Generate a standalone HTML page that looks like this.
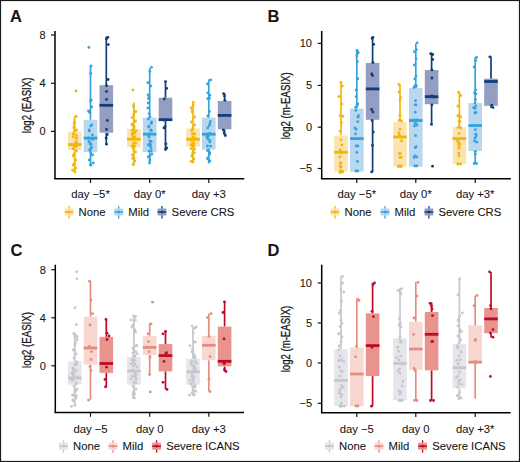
<!DOCTYPE html>
<html><head><meta charset="utf-8"><style>
html,body{margin:0;padding:0;background:#fff;}
svg{display:block;}
text{font-family:"Liberation Sans", sans-serif;fill:#151515;stroke:#151515;stroke-width:0.08px;}
</style></head><body>
<svg width="520" height="462" viewBox="0 0 520 462">
<rect x="0" y="0" width="520" height="462" fill="#fff"/>
<line x1="74.7" y1="116" x2="74.7" y2="131.6" stroke="#F2B70C" stroke-width="1.7"/>
<line x1="74.7" y1="150" x2="74.7" y2="172.8" stroke="#F2B70C" stroke-width="1.7"/>
<rect x="67.9" y="131.6" width="13.6" height="18.4" fill="#FAE5B2"/>
<line x1="67.9" y1="144.6" x2="81.5" y2="144.6" stroke="#F2B70C" stroke-width="2.8"/>
<line x1="90.5" y1="65.7" x2="90.5" y2="119.8" stroke="#35A3DB" stroke-width="1.7"/>
<line x1="90.5" y1="152.2" x2="90.5" y2="165.8" stroke="#35A3DB" stroke-width="1.7"/>
<rect x="83.7" y="119.8" width="13.6" height="32.4" fill="#BAD7F0"/>
<line x1="83.7" y1="138.1" x2="97.3" y2="138.1" stroke="#35A3DB" stroke-width="2.8"/>
<line x1="106.3" y1="36.5" x2="106.3" y2="85.2" stroke="#123D78" stroke-width="1.7"/>
<line x1="106.3" y1="132.7" x2="106.3" y2="144.6" stroke="#123D78" stroke-width="1.7"/>
<rect x="99.5" y="85.2" width="13.6" height="47.5" fill="#949DC2"/>
<line x1="99.5" y1="105.3" x2="113.1" y2="105.3" stroke="#123D78" stroke-width="2.8"/>
<line x1="133.9" y1="102.5" x2="133.9" y2="129" stroke="#F2B70C" stroke-width="1.7"/>
<line x1="133.9" y1="147.2" x2="133.9" y2="165.2" stroke="#F2B70C" stroke-width="1.7"/>
<rect x="127.1" y="129" width="13.6" height="18.2" fill="#FAE5B2"/>
<line x1="127.1" y1="139.2" x2="140.7" y2="139.2" stroke="#F2B70C" stroke-width="2.8"/>
<line x1="149.7" y1="67.9" x2="149.7" y2="117.7" stroke="#35A3DB" stroke-width="1.7"/>
<line x1="149.7" y1="152.2" x2="149.7" y2="163" stroke="#35A3DB" stroke-width="1.7"/>
<rect x="142.9" y="117.7" width="13.6" height="34.5" fill="#BAD7F0"/>
<line x1="142.9" y1="134.2" x2="156.5" y2="134.2" stroke="#35A3DB" stroke-width="2.8"/>
<line x1="165.5" y1="82" x2="165.5" y2="97.7" stroke="#123D78" stroke-width="1.7"/>
<line x1="165.5" y1="121" x2="165.5" y2="149.6" stroke="#123D78" stroke-width="1.7"/>
<rect x="158.7" y="97.7" width="13.6" height="23.3" fill="#949DC2"/>
<line x1="158.7" y1="119.7" x2="172.3" y2="119.7" stroke="#123D78" stroke-width="2.8"/>
<line x1="193.0" y1="102" x2="193.0" y2="128.4" stroke="#F2B70C" stroke-width="1.7"/>
<line x1="193.0" y1="146.8" x2="193.0" y2="162" stroke="#F2B70C" stroke-width="1.7"/>
<rect x="186.2" y="128.4" width="13.6" height="18.4" fill="#FAE5B2"/>
<line x1="186.2" y1="139.2" x2="199.8" y2="139.2" stroke="#F2B70C" stroke-width="2.8"/>
<line x1="208.8" y1="79.4" x2="208.8" y2="117.7" stroke="#35A3DB" stroke-width="1.7"/>
<line x1="208.8" y1="149.6" x2="208.8" y2="162" stroke="#35A3DB" stroke-width="1.7"/>
<rect x="202.0" y="117.7" width="13.6" height="31.9" fill="#BAD7F0"/>
<line x1="202.0" y1="134.2" x2="215.6" y2="134.2" stroke="#35A3DB" stroke-width="2.8"/>
<line x1="224.6" y1="93.4" x2="224.6" y2="101" stroke="#123D78" stroke-width="1.7"/>
<line x1="224.6" y1="129.3" x2="224.6" y2="135.7" stroke="#123D78" stroke-width="1.7"/>
<rect x="217.8" y="101" width="13.6" height="28.3" fill="#949DC2"/>
<line x1="217.8" y1="115.4" x2="231.4" y2="115.4" stroke="#123D78" stroke-width="2.8"/>
<circle cx="76.0" cy="90.9" r="1.4" fill="#F2B70C"/>
<circle cx="76.1" cy="116.4" r="1.4" fill="#F2B70C"/>
<circle cx="74.1" cy="124.0" r="1.4" fill="#F2B70C"/>
<circle cx="76.5" cy="130.0" r="1.4" fill="#F2B70C"/>
<circle cx="73.3" cy="137.0" r="1.4" fill="#F2B70C"/>
<circle cx="75.7" cy="142.0" r="1.4" fill="#F2B70C"/>
<circle cx="74.1" cy="146.0" r="1.4" fill="#F2B70C"/>
<circle cx="76.5" cy="151.0" r="1.4" fill="#F2B70C"/>
<circle cx="73.3" cy="156.0" r="1.4" fill="#F2B70C"/>
<circle cx="75.7" cy="160.0" r="1.4" fill="#F2B70C"/>
<circle cx="74.1" cy="164.0" r="1.4" fill="#F2B70C"/>
<circle cx="75.7" cy="168.0" r="1.4" fill="#F2B70C"/>
<circle cx="74.9" cy="172.0" r="1.4" fill="#F2B70C"/>
<circle cx="76.6" cy="143.5" r="1.4" fill="#F2B70C"/>
<circle cx="76.5" cy="137.9" r="1.4" fill="#F2B70C"/>
<circle cx="74.0" cy="154.2" r="1.4" fill="#F2B70C"/>
<circle cx="73.8" cy="133.2" r="1.4" fill="#F2B70C"/>
<circle cx="72.7" cy="170.2" r="1.4" fill="#F2B70C"/>
<circle cx="76.5" cy="142.4" r="1.4" fill="#F2B70C"/>
<circle cx="76.3" cy="146.6" r="1.4" fill="#F2B70C"/>
<circle cx="74.0" cy="148.9" r="1.4" fill="#F2B70C"/>
<circle cx="74.2" cy="145.0" r="1.4" fill="#F2B70C"/>
<circle cx="73.2" cy="164.9" r="1.4" fill="#F2B70C"/>
<circle cx="76.3" cy="135.6" r="1.4" fill="#F2B70C"/>
<circle cx="73.1" cy="148.5" r="1.4" fill="#F2B70C"/>
<circle cx="73.8" cy="127.5" r="1.4" fill="#F2B70C"/>
<circle cx="74.2" cy="127.1" r="1.4" fill="#F2B70C"/>
<circle cx="76.5" cy="138.6" r="1.4" fill="#F2B70C"/>
<circle cx="74.4" cy="121.8" r="1.4" fill="#F2B70C"/>
<circle cx="74.7" cy="130.8" r="1.4" fill="#F2B70C"/>
<circle cx="73.4" cy="134.3" r="1.4" fill="#F2B70C"/>
<circle cx="88.9" cy="47.4" r="1.4" fill="#35A3DB"/>
<circle cx="91.1" cy="66.0" r="1.4" fill="#35A3DB"/>
<circle cx="90.8" cy="73.5" r="1.4" fill="#35A3DB"/>
<circle cx="91.3" cy="99.8" r="1.4" fill="#35A3DB"/>
<circle cx="91.7" cy="107.0" r="1.4" fill="#35A3DB"/>
<circle cx="88.5" cy="111.0" r="1.4" fill="#35A3DB"/>
<circle cx="91.7" cy="125.0" r="1.4" fill="#35A3DB"/>
<circle cx="89.3" cy="131.0" r="1.4" fill="#35A3DB"/>
<circle cx="92.5" cy="135.0" r="1.4" fill="#35A3DB"/>
<circle cx="88.5" cy="138.0" r="1.4" fill="#35A3DB"/>
<circle cx="93.3" cy="139.0" r="1.4" fill="#35A3DB"/>
<circle cx="90.1" cy="143.0" r="1.4" fill="#35A3DB"/>
<circle cx="91.7" cy="147.0" r="1.4" fill="#35A3DB"/>
<circle cx="90.1" cy="150.0" r="1.4" fill="#35A3DB"/>
<circle cx="92.5" cy="155.0" r="1.4" fill="#35A3DB"/>
<circle cx="89.3" cy="160.0" r="1.4" fill="#35A3DB"/>
<circle cx="90.9" cy="165.0" r="1.4" fill="#35A3DB"/>
<circle cx="93.3" cy="163.0" r="1.4" fill="#35A3DB"/>
<circle cx="90.1" cy="143.9" r="1.4" fill="#35A3DB"/>
<circle cx="90.6" cy="126.0" r="1.4" fill="#35A3DB"/>
<circle cx="90.4" cy="101.3" r="1.4" fill="#35A3DB"/>
<circle cx="90.0" cy="150.5" r="1.4" fill="#35A3DB"/>
<circle cx="90.9" cy="144.2" r="1.4" fill="#35A3DB"/>
<circle cx="90.8" cy="153.0" r="1.4" fill="#35A3DB"/>
<circle cx="92.2" cy="139.2" r="1.4" fill="#35A3DB"/>
<circle cx="90.6" cy="164.9" r="1.4" fill="#35A3DB"/>
<circle cx="90.0" cy="149.6" r="1.4" fill="#35A3DB"/>
<circle cx="91.1" cy="147.9" r="1.4" fill="#35A3DB"/>
<circle cx="89.8" cy="112.7" r="1.4" fill="#35A3DB"/>
<circle cx="88.9" cy="141.5" r="1.4" fill="#35A3DB"/>
<circle cx="89.2" cy="130.0" r="1.4" fill="#35A3DB"/>
<circle cx="89.5" cy="111.5" r="1.4" fill="#35A3DB"/>
<circle cx="107.9" cy="37.3" r="1.4" fill="#123D78"/>
<circle cx="106.5" cy="39.0" r="1.4" fill="#123D78"/>
<circle cx="108.3" cy="44.6" r="1.4" fill="#123D78"/>
<circle cx="108.1" cy="79.5" r="1.4" fill="#123D78"/>
<circle cx="106.5" cy="85.7" r="1.4" fill="#123D78"/>
<circle cx="106.5" cy="91.4" r="1.4" fill="#123D78"/>
<circle cx="106.5" cy="99.5" r="1.4" fill="#123D78"/>
<circle cx="107.3" cy="120.5" r="1.4" fill="#123D78"/>
<circle cx="106.5" cy="129.5" r="1.4" fill="#123D78"/>
<circle cx="107.3" cy="134.5" r="1.4" fill="#123D78"/>
<circle cx="106.1" cy="138.0" r="1.4" fill="#123D78"/>
<circle cx="106.5" cy="144.2" r="1.4" fill="#123D78"/>
<circle cx="132.9" cy="90.0" r="1.4" fill="#F2B70C"/>
<circle cx="135.8" cy="111.6" r="1.4" fill="#F2B70C"/>
<circle cx="133.6" cy="114.4" r="1.4" fill="#F2B70C"/>
<circle cx="132.0" cy="117.6" r="1.4" fill="#F2B70C"/>
<circle cx="134.8" cy="121.4" r="1.4" fill="#F2B70C"/>
<circle cx="132.4" cy="124.0" r="1.4" fill="#F2B70C"/>
<circle cx="134.0" cy="126.6" r="1.4" fill="#F2B70C"/>
<circle cx="132.8" cy="130.0" r="1.4" fill="#F2B70C"/>
<circle cx="134.8" cy="133.0" r="1.4" fill="#F2B70C"/>
<circle cx="135.6" cy="121.0" r="1.4" fill="#F2B70C"/>
<circle cx="132.0" cy="125.0" r="1.4" fill="#F2B70C"/>
<circle cx="134.0" cy="128.0" r="1.4" fill="#F2B70C"/>
<circle cx="136.0" cy="131.0" r="1.4" fill="#F2B70C"/>
<circle cx="132.4" cy="134.0" r="1.4" fill="#F2B70C"/>
<circle cx="134.8" cy="137.0" r="1.4" fill="#F2B70C"/>
<circle cx="133.2" cy="140.0" r="1.4" fill="#F2B70C"/>
<circle cx="135.6" cy="143.0" r="1.4" fill="#F2B70C"/>
<circle cx="132.0" cy="146.0" r="1.4" fill="#F2B70C"/>
<circle cx="134.0" cy="149.0" r="1.4" fill="#F2B70C"/>
<circle cx="135.6" cy="152.0" r="1.4" fill="#F2B70C"/>
<circle cx="132.4" cy="155.0" r="1.4" fill="#F2B70C"/>
<circle cx="134.0" cy="158.0" r="1.4" fill="#F2B70C"/>
<circle cx="134.8" cy="161.0" r="1.4" fill="#F2B70C"/>
<circle cx="133.2" cy="164.5" r="1.4" fill="#F2B70C"/>
<circle cx="133.8" cy="151.4" r="1.4" fill="#F2B70C"/>
<circle cx="134.4" cy="137.4" r="1.4" fill="#F2B70C"/>
<circle cx="135.5" cy="111.8" r="1.4" fill="#F2B70C"/>
<circle cx="134.2" cy="137.2" r="1.4" fill="#F2B70C"/>
<circle cx="134.0" cy="146.6" r="1.4" fill="#F2B70C"/>
<circle cx="133.0" cy="136.9" r="1.4" fill="#F2B70C"/>
<circle cx="132.6" cy="130.4" r="1.4" fill="#F2B70C"/>
<circle cx="133.7" cy="128.9" r="1.4" fill="#F2B70C"/>
<circle cx="133.8" cy="106.9" r="1.4" fill="#F2B70C"/>
<circle cx="134.5" cy="146.0" r="1.4" fill="#F2B70C"/>
<circle cx="132.1" cy="134.5" r="1.4" fill="#F2B70C"/>
<circle cx="133.8" cy="132.2" r="1.4" fill="#F2B70C"/>
<circle cx="133.2" cy="139.5" r="1.4" fill="#F2B70C"/>
<circle cx="132.8" cy="147.9" r="1.4" fill="#F2B70C"/>
<circle cx="133.4" cy="143.5" r="1.4" fill="#F2B70C"/>
<circle cx="132.7" cy="133.3" r="1.4" fill="#F2B70C"/>
<circle cx="132.7" cy="158.5" r="1.4" fill="#F2B70C"/>
<circle cx="133.6" cy="105.4" r="1.4" fill="#F2B70C"/>
<circle cx="151.5" cy="67.3" r="1.4" fill="#35A3DB"/>
<circle cx="149.9" cy="71.4" r="1.4" fill="#35A3DB"/>
<circle cx="147.9" cy="82.7" r="1.4" fill="#35A3DB"/>
<circle cx="150.7" cy="86.0" r="1.4" fill="#35A3DB"/>
<circle cx="149.1" cy="96.5" r="1.4" fill="#35A3DB"/>
<circle cx="148.3" cy="103.0" r="1.4" fill="#35A3DB"/>
<circle cx="147.9" cy="107.9" r="1.4" fill="#35A3DB"/>
<circle cx="149.1" cy="113.6" r="1.4" fill="#35A3DB"/>
<circle cx="149.9" cy="116.8" r="1.4" fill="#35A3DB"/>
<circle cx="148.3" cy="119.0" r="1.4" fill="#35A3DB"/>
<circle cx="151.5" cy="122.0" r="1.4" fill="#35A3DB"/>
<circle cx="148.7" cy="127.0" r="1.4" fill="#35A3DB"/>
<circle cx="150.7" cy="130.0" r="1.4" fill="#35A3DB"/>
<circle cx="149.1" cy="137.0" r="1.4" fill="#35A3DB"/>
<circle cx="149.9" cy="141.0" r="1.4" fill="#35A3DB"/>
<circle cx="148.3" cy="145.0" r="1.4" fill="#35A3DB"/>
<circle cx="151.1" cy="148.0" r="1.4" fill="#35A3DB"/>
<circle cx="149.1" cy="151.0" r="1.4" fill="#35A3DB"/>
<circle cx="151.9" cy="154.0" r="1.4" fill="#35A3DB"/>
<circle cx="148.3" cy="157.0" r="1.4" fill="#35A3DB"/>
<circle cx="149.9" cy="160.0" r="1.4" fill="#35A3DB"/>
<circle cx="149.5" cy="163.0" r="1.4" fill="#35A3DB"/>
<circle cx="150.5" cy="144.6" r="1.4" fill="#35A3DB"/>
<circle cx="148.3" cy="134.4" r="1.4" fill="#35A3DB"/>
<circle cx="151.3" cy="123.3" r="1.4" fill="#35A3DB"/>
<circle cx="150.2" cy="145.9" r="1.4" fill="#35A3DB"/>
<circle cx="149.7" cy="144.0" r="1.4" fill="#35A3DB"/>
<circle cx="148.9" cy="126.1" r="1.4" fill="#35A3DB"/>
<circle cx="149.4" cy="133.7" r="1.4" fill="#35A3DB"/>
<circle cx="151.2" cy="150.8" r="1.4" fill="#35A3DB"/>
<circle cx="149.9" cy="155.8" r="1.4" fill="#35A3DB"/>
<circle cx="148.7" cy="135.6" r="1.4" fill="#35A3DB"/>
<circle cx="151.3" cy="141.6" r="1.4" fill="#35A3DB"/>
<circle cx="151.4" cy="130.7" r="1.4" fill="#35A3DB"/>
<circle cx="148.5" cy="98.7" r="1.4" fill="#35A3DB"/>
<circle cx="148.0" cy="94.8" r="1.4" fill="#35A3DB"/>
<circle cx="165.5" cy="81.6" r="1.4" fill="#123D78"/>
<circle cx="166.7" cy="88.4" r="1.4" fill="#123D78"/>
<circle cx="164.3" cy="99.0" r="1.4" fill="#123D78"/>
<circle cx="163.9" cy="120.0" r="1.4" fill="#123D78"/>
<circle cx="165.1" cy="126.6" r="1.4" fill="#123D78"/>
<circle cx="163.9" cy="127.9" r="1.4" fill="#123D78"/>
<circle cx="165.9" cy="144.0" r="1.4" fill="#123D78"/>
<circle cx="166.7" cy="148.0" r="1.4" fill="#123D78"/>
<circle cx="165.5" cy="149.5" r="1.4" fill="#123D78"/>
<circle cx="193.2" cy="102.3" r="1.4" fill="#F2B70C"/>
<circle cx="191.1" cy="107.9" r="1.4" fill="#F2B70C"/>
<circle cx="192.2" cy="110.6" r="1.4" fill="#F2B70C"/>
<circle cx="192.2" cy="112.0" r="1.4" fill="#F2B70C"/>
<circle cx="194.6" cy="117.0" r="1.4" fill="#F2B70C"/>
<circle cx="191.4" cy="122.0" r="1.4" fill="#F2B70C"/>
<circle cx="194.6" cy="125.0" r="1.4" fill="#F2B70C"/>
<circle cx="193.0" cy="128.0" r="1.4" fill="#F2B70C"/>
<circle cx="191.8" cy="131.0" r="1.4" fill="#F2B70C"/>
<circle cx="194.6" cy="134.0" r="1.4" fill="#F2B70C"/>
<circle cx="193.0" cy="137.0" r="1.4" fill="#F2B70C"/>
<circle cx="191.4" cy="140.0" r="1.4" fill="#F2B70C"/>
<circle cx="193.8" cy="143.0" r="1.4" fill="#F2B70C"/>
<circle cx="192.2" cy="146.0" r="1.4" fill="#F2B70C"/>
<circle cx="194.6" cy="149.0" r="1.4" fill="#F2B70C"/>
<circle cx="193.0" cy="152.0" r="1.4" fill="#F2B70C"/>
<circle cx="191.8" cy="156.0" r="1.4" fill="#F2B70C"/>
<circle cx="193.8" cy="159.0" r="1.4" fill="#F2B70C"/>
<circle cx="193.0" cy="162.0" r="1.4" fill="#F2B70C"/>
<circle cx="191.2" cy="144.7" r="1.4" fill="#F2B70C"/>
<circle cx="191.0" cy="148.6" r="1.4" fill="#F2B70C"/>
<circle cx="191.1" cy="161.5" r="1.4" fill="#F2B70C"/>
<circle cx="193.9" cy="145.5" r="1.4" fill="#F2B70C"/>
<circle cx="192.5" cy="153.8" r="1.4" fill="#F2B70C"/>
<circle cx="193.2" cy="104.8" r="1.4" fill="#F2B70C"/>
<circle cx="194.2" cy="139.9" r="1.4" fill="#F2B70C"/>
<circle cx="194.7" cy="138.1" r="1.4" fill="#F2B70C"/>
<circle cx="194.0" cy="133.7" r="1.4" fill="#F2B70C"/>
<circle cx="192.4" cy="129.6" r="1.4" fill="#F2B70C"/>
<circle cx="191.8" cy="139.7" r="1.4" fill="#F2B70C"/>
<circle cx="191.4" cy="140.5" r="1.4" fill="#F2B70C"/>
<circle cx="193.7" cy="138.4" r="1.4" fill="#F2B70C"/>
<circle cx="193.4" cy="140.0" r="1.4" fill="#F2B70C"/>
<circle cx="192.4" cy="134.1" r="1.4" fill="#F2B70C"/>
<circle cx="194.4" cy="152.7" r="1.4" fill="#F2B70C"/>
<circle cx="193.0" cy="143.5" r="1.4" fill="#F2B70C"/>
<circle cx="191.9" cy="139.0" r="1.4" fill="#F2B70C"/>
<circle cx="210.7" cy="80.0" r="1.4" fill="#35A3DB"/>
<circle cx="207.4" cy="83.9" r="1.4" fill="#35A3DB"/>
<circle cx="207.8" cy="92.8" r="1.4" fill="#35A3DB"/>
<circle cx="207.8" cy="98.7" r="1.4" fill="#35A3DB"/>
<circle cx="209.4" cy="111.5" r="1.4" fill="#35A3DB"/>
<circle cx="207.8" cy="116.0" r="1.4" fill="#35A3DB"/>
<circle cx="209.8" cy="124.0" r="1.4" fill="#35A3DB"/>
<circle cx="207.8" cy="128.0" r="1.4" fill="#35A3DB"/>
<circle cx="209.0" cy="134.0" r="1.4" fill="#35A3DB"/>
<circle cx="208.2" cy="136.0" r="1.4" fill="#35A3DB"/>
<circle cx="209.8" cy="142.0" r="1.4" fill="#35A3DB"/>
<circle cx="207.4" cy="146.0" r="1.4" fill="#35A3DB"/>
<circle cx="208.6" cy="150.0" r="1.4" fill="#35A3DB"/>
<circle cx="209.8" cy="154.0" r="1.4" fill="#35A3DB"/>
<circle cx="207.8" cy="158.0" r="1.4" fill="#35A3DB"/>
<circle cx="209.8" cy="161.0" r="1.4" fill="#35A3DB"/>
<circle cx="209.0" cy="162.0" r="1.4" fill="#35A3DB"/>
<circle cx="209.3" cy="125.7" r="1.4" fill="#35A3DB"/>
<circle cx="209.7" cy="95.2" r="1.4" fill="#35A3DB"/>
<circle cx="207.5" cy="150.5" r="1.4" fill="#35A3DB"/>
<circle cx="210.2" cy="133.4" r="1.4" fill="#35A3DB"/>
<circle cx="207.0" cy="136.8" r="1.4" fill="#35A3DB"/>
<circle cx="210.1" cy="140.4" r="1.4" fill="#35A3DB"/>
<circle cx="210.4" cy="146.2" r="1.4" fill="#35A3DB"/>
<circle cx="207.6" cy="158.8" r="1.4" fill="#35A3DB"/>
<circle cx="209.8" cy="152.7" r="1.4" fill="#35A3DB"/>
<circle cx="206.9" cy="134.1" r="1.4" fill="#35A3DB"/>
<circle cx="207.6" cy="137.4" r="1.4" fill="#35A3DB"/>
<circle cx="208.0" cy="139.2" r="1.4" fill="#35A3DB"/>
<circle cx="209.4" cy="98.2" r="1.4" fill="#35A3DB"/>
<circle cx="210.3" cy="121.5" r="1.4" fill="#35A3DB"/>
<circle cx="223.6" cy="93.6" r="1.4" fill="#123D78"/>
<circle cx="224.5" cy="96.0" r="1.4" fill="#123D78"/>
<circle cx="224.9" cy="100.3" r="1.4" fill="#123D78"/>
<circle cx="223.3" cy="130.0" r="1.4" fill="#123D78"/>
<circle cx="224.1" cy="133.0" r="1.4" fill="#123D78"/>
<circle cx="225.3" cy="135.5" r="1.4" fill="#123D78"/>
<line x1="55" y1="31" x2="55" y2="179" stroke="#000" stroke-width="1.5"/>
<line x1="54.25" y1="178.7" x2="244.2" y2="178.7" stroke="#000" stroke-width="1.5"/>
<line x1="51" y1="35" x2="55" y2="35" stroke="#111" stroke-width="1.2"/>
<text x="45.6" y="38.9" text-anchor="end" font-size="11">8</text>
<line x1="51" y1="83.3" x2="55" y2="83.3" stroke="#111" stroke-width="1.2"/>
<text x="45.6" y="87.2" text-anchor="end" font-size="11">4</text>
<line x1="51" y1="131.4" x2="55" y2="131.4" stroke="#111" stroke-width="1.2"/>
<text x="45.6" y="135.3" text-anchor="end" font-size="11">0</text>
<line x1="90.5" y1="179" x2="90.5" y2="183" stroke="#111" stroke-width="1.2"/>
<text x="90.5" y="198" text-anchor="middle" font-size="11.3">day −5*</text>
<line x1="149.7" y1="179" x2="149.7" y2="183" stroke="#111" stroke-width="1.2"/>
<text x="149.7" y="198" text-anchor="middle" font-size="11.3">day 0*</text>
<line x1="208.8" y1="179" x2="208.8" y2="183" stroke="#111" stroke-width="1.2"/>
<text x="208.8" y="198" text-anchor="middle" font-size="11.3">day +3</text>
<text transform="translate(30.9,105.4) rotate(-90)" text-anchor="middle" font-size="12.5" style="stroke-width:0.3px" textLength="55.5" lengthAdjust="spacingAndGlyphs">log2 (EASIX)</text>
<text x="10.1" y="21.9" font-size="16.5" font-weight="bold">A</text>
<line x1="69" y1="206.0" x2="69" y2="218.5" stroke="#F2B70C" stroke-width="1.3"/>
<rect x="64.6" y="208.5" width="8.8" height="7" fill="#FAE5B2"/>
<line x1="64.6" y1="212.0" x2="73.4" y2="212.0" stroke="#F2B70C" stroke-width="1.5"/>
<circle cx="69" cy="212.0" r="1.4" fill="#F2B70C"/>
<text x="78.6" y="215.5" font-size="11.3">None</text>
<line x1="118.7" y1="206.0" x2="118.7" y2="218.5" stroke="#35A3DB" stroke-width="1.3"/>
<rect x="114.3" y="208.5" width="8.8" height="7" fill="#BAD7F0"/>
<line x1="114.3" y1="212.0" x2="123.10000000000001" y2="212.0" stroke="#35A3DB" stroke-width="1.5"/>
<circle cx="118.7" cy="212.0" r="1.4" fill="#35A3DB"/>
<text x="128.3" y="215.5" font-size="11.3">Mild</text>
<line x1="162" y1="206.0" x2="162" y2="218.5" stroke="#123D78" stroke-width="1.3"/>
<rect x="157.6" y="208.5" width="8.8" height="7" fill="#949DC2"/>
<line x1="157.6" y1="212.0" x2="166.4" y2="212.0" stroke="#123D78" stroke-width="1.5"/>
<circle cx="162" cy="212.0" r="1.4" fill="#123D78"/>
<text x="171.6" y="215.5" font-size="11.3">Severe CRS</text>
<line x1="341.0" y1="82" x2="341.0" y2="135.5" stroke="#F2B70C" stroke-width="1.7"/>
<line x1="341.0" y1="171.7" x2="341.0" y2="172.8" stroke="#F2B70C" stroke-width="1.7"/>
<rect x="334.2" y="135.5" width="13.6" height="36.2" fill="#FAE5B2"/>
<line x1="334.2" y1="152.2" x2="347.8" y2="152.2" stroke="#F2B70C" stroke-width="2.8"/>
<line x1="356.8" y1="49.9" x2="356.8" y2="108.6" stroke="#35A3DB" stroke-width="1.7"/>
<line x1="356.8" y1="171.7" x2="356.8" y2="171.7" stroke="#35A3DB" stroke-width="1.7"/>
<rect x="350.0" y="108.6" width="13.6" height="63.1" fill="#BAD7F0"/>
<line x1="350.0" y1="138.6" x2="363.6" y2="138.6" stroke="#35A3DB" stroke-width="2.8"/>
<line x1="372.6" y1="36.9" x2="372.6" y2="62.9" stroke="#123D78" stroke-width="1.7"/>
<line x1="372.6" y1="119.8" x2="372.6" y2="172" stroke="#123D78" stroke-width="1.7"/>
<rect x="365.8" y="62.9" width="13.6" height="56.9" fill="#949DC2"/>
<line x1="365.8" y1="88.9" x2="379.4" y2="88.9" stroke="#123D78" stroke-width="2.8"/>
<line x1="400.0" y1="84.1" x2="400.0" y2="122" stroke="#F2B70C" stroke-width="1.7"/>
<line x1="400.0" y1="166.7" x2="400.0" y2="166.7" stroke="#F2B70C" stroke-width="1.7"/>
<rect x="393.2" y="122" width="13.6" height="44.7" fill="#FAE5B2"/>
<line x1="393.2" y1="137" x2="406.8" y2="137" stroke="#F2B70C" stroke-width="2.8"/>
<line x1="415.8" y1="43.4" x2="415.8" y2="88" stroke="#35A3DB" stroke-width="1.7"/>
<line x1="415.8" y1="166.7" x2="415.8" y2="166.7" stroke="#35A3DB" stroke-width="1.7"/>
<rect x="409.0" y="88" width="13.6" height="78.7" fill="#BAD7F0"/>
<line x1="409.0" y1="120.5" x2="422.6" y2="120.5" stroke="#35A3DB" stroke-width="2.8"/>
<line x1="431.6" y1="52.7" x2="431.6" y2="70" stroke="#123D78" stroke-width="1.7"/>
<line x1="431.6" y1="104.2" x2="431.6" y2="124.2" stroke="#123D78" stroke-width="1.7"/>
<rect x="424.8" y="70" width="13.6" height="34.2" fill="#949DC2"/>
<line x1="424.8" y1="96.7" x2="438.4" y2="96.7" stroke="#123D78" stroke-width="2.8"/>
<line x1="459.4" y1="92.3" x2="459.4" y2="127.3" stroke="#F2B70C" stroke-width="1.7"/>
<line x1="459.4" y1="164.1" x2="459.4" y2="164" stroke="#F2B70C" stroke-width="1.7"/>
<rect x="452.6" y="127.3" width="13.6" height="36.8" fill="#FAE5B2"/>
<line x1="452.6" y1="138.6" x2="466.2" y2="138.6" stroke="#F2B70C" stroke-width="2.8"/>
<line x1="475.2" y1="57" x2="475.2" y2="103" stroke="#35A3DB" stroke-width="1.7"/>
<line x1="475.2" y1="151" x2="475.2" y2="163.7" stroke="#35A3DB" stroke-width="1.7"/>
<rect x="468.4" y="103" width="13.6" height="48.0" fill="#BAD7F0"/>
<line x1="468.4" y1="125.5" x2="482.0" y2="125.5" stroke="#35A3DB" stroke-width="2.8"/>
<line x1="491.0" y1="56.4" x2="491.0" y2="78.7" stroke="#123D78" stroke-width="1.7"/>
<line x1="491.0" y1="105.8" x2="491.0" y2="108" stroke="#123D78" stroke-width="1.7"/>
<rect x="484.2" y="78.7" width="13.6" height="27.1" fill="#949DC2"/>
<line x1="484.2" y1="81.5" x2="497.8" y2="81.5" stroke="#123D78" stroke-width="2.8"/>
<circle cx="341.0" cy="82.3" r="1.4" fill="#F2B70C"/>
<circle cx="342.2" cy="86.0" r="1.4" fill="#F2B70C"/>
<circle cx="339.0" cy="96.6" r="1.4" fill="#F2B70C"/>
<circle cx="340.2" cy="115.6" r="1.4" fill="#F2B70C"/>
<circle cx="341.4" cy="122.5" r="1.4" fill="#F2B70C"/>
<circle cx="340.2" cy="131.2" r="1.4" fill="#F2B70C"/>
<circle cx="341.0" cy="140.0" r="1.4" fill="#F2B70C"/>
<circle cx="341.8" cy="145.0" r="1.4" fill="#F2B70C"/>
<circle cx="340.2" cy="150.0" r="1.4" fill="#F2B70C"/>
<circle cx="341.4" cy="153.0" r="1.4" fill="#F2B70C"/>
<circle cx="339.8" cy="157.0" r="1.4" fill="#F2B70C"/>
<circle cx="341.0" cy="163.0" r="1.4" fill="#F2B70C"/>
<circle cx="340.2" cy="171.0" r="1.4" fill="#F2B70C"/>
<circle cx="341.8" cy="171.0" r="1.4" fill="#F2B70C"/>
<circle cx="340.1" cy="163.1" r="1.4" fill="#F2B70C"/>
<circle cx="342.4" cy="172.0" r="1.4" fill="#F2B70C"/>
<circle cx="342.9" cy="116.2" r="1.4" fill="#F2B70C"/>
<circle cx="342.6" cy="171.8" r="1.4" fill="#F2B70C"/>
<circle cx="341.9" cy="104.1" r="1.4" fill="#F2B70C"/>
<circle cx="340.1" cy="166.0" r="1.4" fill="#F2B70C"/>
<circle cx="340.8" cy="167.2" r="1.4" fill="#F2B70C"/>
<circle cx="339.8" cy="172.5" r="1.4" fill="#F2B70C"/>
<circle cx="357.0" cy="50.3" r="1.4" fill="#35A3DB"/>
<circle cx="357.4" cy="61.7" r="1.4" fill="#35A3DB"/>
<circle cx="357.8" cy="78.7" r="1.4" fill="#35A3DB"/>
<circle cx="356.2" cy="90.0" r="1.4" fill="#35A3DB"/>
<circle cx="356.2" cy="96.6" r="1.4" fill="#35A3DB"/>
<circle cx="357.8" cy="103.9" r="1.4" fill="#35A3DB"/>
<circle cx="357.0" cy="106.0" r="1.4" fill="#35A3DB"/>
<circle cx="355.8" cy="110.4" r="1.4" fill="#35A3DB"/>
<circle cx="358.6" cy="115.6" r="1.4" fill="#35A3DB"/>
<circle cx="357.8" cy="121.6" r="1.4" fill="#35A3DB"/>
<circle cx="356.2" cy="129.4" r="1.4" fill="#35A3DB"/>
<circle cx="355.4" cy="133.8" r="1.4" fill="#35A3DB"/>
<circle cx="356.2" cy="145.9" r="1.4" fill="#35A3DB"/>
<circle cx="357.8" cy="146.0" r="1.4" fill="#35A3DB"/>
<circle cx="357.4" cy="161.5" r="1.4" fill="#35A3DB"/>
<circle cx="355.8" cy="171.0" r="1.4" fill="#35A3DB"/>
<circle cx="357.8" cy="171.0" r="1.4" fill="#35A3DB"/>
<circle cx="357.6" cy="78.6" r="1.4" fill="#35A3DB"/>
<circle cx="356.7" cy="55.9" r="1.4" fill="#35A3DB"/>
<circle cx="354.9" cy="127.9" r="1.4" fill="#35A3DB"/>
<circle cx="357.4" cy="53.5" r="1.4" fill="#35A3DB"/>
<circle cx="356.8" cy="152.5" r="1.4" fill="#35A3DB"/>
<circle cx="355.5" cy="107.3" r="1.4" fill="#35A3DB"/>
<circle cx="358.0" cy="117.2" r="1.4" fill="#35A3DB"/>
<circle cx="358.2" cy="52.3" r="1.4" fill="#35A3DB"/>
<circle cx="372.9" cy="37.3" r="1.4" fill="#123D78"/>
<circle cx="372.1" cy="38.4" r="1.4" fill="#123D78"/>
<circle cx="373.7" cy="44.3" r="1.4" fill="#123D78"/>
<circle cx="372.9" cy="62.5" r="1.4" fill="#123D78"/>
<circle cx="371.7" cy="73.8" r="1.4" fill="#123D78"/>
<circle cx="372.5" cy="75.5" r="1.4" fill="#123D78"/>
<circle cx="371.7" cy="109.5" r="1.4" fill="#123D78"/>
<circle cx="372.9" cy="112.0" r="1.4" fill="#123D78"/>
<circle cx="372.1" cy="120.4" r="1.4" fill="#123D78"/>
<circle cx="373.3" cy="132.0" r="1.4" fill="#123D78"/>
<circle cx="372.5" cy="145.4" r="1.4" fill="#123D78"/>
<circle cx="371.7" cy="171.9" r="1.4" fill="#123D78"/>
<circle cx="398.8" cy="84.5" r="1.4" fill="#F2B70C"/>
<circle cx="400.0" cy="100.0" r="1.4" fill="#F2B70C"/>
<circle cx="400.0" cy="115.4" r="1.4" fill="#F2B70C"/>
<circle cx="399.2" cy="120.3" r="1.4" fill="#F2B70C"/>
<circle cx="401.6" cy="121.0" r="1.4" fill="#F2B70C"/>
<circle cx="400.0" cy="129.2" r="1.4" fill="#F2B70C"/>
<circle cx="398.8" cy="133.0" r="1.4" fill="#F2B70C"/>
<circle cx="400.8" cy="137.0" r="1.4" fill="#F2B70C"/>
<circle cx="401.6" cy="141.0" r="1.4" fill="#F2B70C"/>
<circle cx="399.2" cy="153.6" r="1.4" fill="#F2B70C"/>
<circle cx="400.0" cy="157.6" r="1.4" fill="#F2B70C"/>
<circle cx="399.2" cy="166.0" r="1.4" fill="#F2B70C"/>
<circle cx="401.2" cy="166.0" r="1.4" fill="#F2B70C"/>
<circle cx="399.9" cy="115.3" r="1.4" fill="#F2B70C"/>
<circle cx="398.3" cy="166.7" r="1.4" fill="#F2B70C"/>
<circle cx="400.4" cy="153.6" r="1.4" fill="#F2B70C"/>
<circle cx="399.5" cy="134.9" r="1.4" fill="#F2B70C"/>
<circle cx="400.7" cy="97.4" r="1.4" fill="#F2B70C"/>
<circle cx="399.0" cy="92.0" r="1.4" fill="#F2B70C"/>
<circle cx="401.3" cy="166.7" r="1.4" fill="#F2B70C"/>
<circle cx="401.1" cy="157.3" r="1.4" fill="#F2B70C"/>
<circle cx="417.2" cy="42.8" r="1.4" fill="#35A3DB"/>
<circle cx="416.4" cy="49.6" r="1.4" fill="#35A3DB"/>
<circle cx="414.4" cy="65.0" r="1.4" fill="#35A3DB"/>
<circle cx="414.8" cy="78.8" r="1.4" fill="#35A3DB"/>
<circle cx="415.2" cy="85.3" r="1.4" fill="#35A3DB"/>
<circle cx="416.4" cy="86.0" r="1.4" fill="#35A3DB"/>
<circle cx="414.0" cy="87.5" r="1.4" fill="#35A3DB"/>
<circle cx="415.6" cy="100.7" r="1.4" fill="#35A3DB"/>
<circle cx="415.2" cy="104.8" r="1.4" fill="#35A3DB"/>
<circle cx="416.0" cy="104.9" r="1.4" fill="#35A3DB"/>
<circle cx="415.2" cy="112.2" r="1.4" fill="#35A3DB"/>
<circle cx="414.0" cy="120.0" r="1.4" fill="#35A3DB"/>
<circle cx="416.8" cy="120.0" r="1.4" fill="#35A3DB"/>
<circle cx="415.2" cy="124.0" r="1.4" fill="#35A3DB"/>
<circle cx="414.4" cy="126.0" r="1.4" fill="#35A3DB"/>
<circle cx="415.6" cy="135.7" r="1.4" fill="#35A3DB"/>
<circle cx="414.8" cy="156.0" r="1.4" fill="#35A3DB"/>
<circle cx="416.8" cy="157.0" r="1.4" fill="#35A3DB"/>
<circle cx="414.8" cy="166.0" r="1.4" fill="#35A3DB"/>
<circle cx="416.8" cy="166.0" r="1.4" fill="#35A3DB"/>
<circle cx="414.4" cy="51.7" r="1.4" fill="#35A3DB"/>
<circle cx="417.0" cy="125.1" r="1.4" fill="#35A3DB"/>
<circle cx="414.0" cy="157.6" r="1.4" fill="#35A3DB"/>
<circle cx="416.1" cy="146.7" r="1.4" fill="#35A3DB"/>
<circle cx="416.0" cy="75.8" r="1.4" fill="#35A3DB"/>
<circle cx="415.2" cy="147.7" r="1.4" fill="#35A3DB"/>
<circle cx="415.7" cy="123.3" r="1.4" fill="#35A3DB"/>
<circle cx="416.1" cy="58.8" r="1.4" fill="#35A3DB"/>
<circle cx="430.7" cy="53.7" r="1.4" fill="#123D78"/>
<circle cx="432.7" cy="54.5" r="1.4" fill="#123D78"/>
<circle cx="432.7" cy="59.4" r="1.4" fill="#123D78"/>
<circle cx="431.9" cy="69.9" r="1.4" fill="#123D78"/>
<circle cx="431.9" cy="78.0" r="1.4" fill="#123D78"/>
<circle cx="428.7" cy="96.7" r="1.4" fill="#123D78"/>
<circle cx="431.9" cy="95.9" r="1.4" fill="#123D78"/>
<circle cx="433.9" cy="97.0" r="1.4" fill="#123D78"/>
<circle cx="431.9" cy="104.8" r="1.4" fill="#123D78"/>
<circle cx="431.5" cy="124.4" r="1.4" fill="#123D78"/>
<circle cx="432.6" cy="166.2" r="1.4" fill="#123D78"/>
<circle cx="458.7" cy="92.2" r="1.4" fill="#F2B70C"/>
<circle cx="460.7" cy="95.5" r="1.4" fill="#F2B70C"/>
<circle cx="457.9" cy="106.0" r="1.4" fill="#F2B70C"/>
<circle cx="457.9" cy="115.7" r="1.4" fill="#F2B70C"/>
<circle cx="459.1" cy="121.4" r="1.4" fill="#F2B70C"/>
<circle cx="458.3" cy="116.0" r="1.4" fill="#F2B70C"/>
<circle cx="459.9" cy="121.4" r="1.4" fill="#F2B70C"/>
<circle cx="459.1" cy="126.7" r="1.4" fill="#F2B70C"/>
<circle cx="460.7" cy="128.0" r="1.4" fill="#F2B70C"/>
<circle cx="459.1" cy="133.5" r="1.4" fill="#F2B70C"/>
<circle cx="459.9" cy="144.0" r="1.4" fill="#F2B70C"/>
<circle cx="458.7" cy="153.2" r="1.4" fill="#F2B70C"/>
<circle cx="459.1" cy="156.0" r="1.4" fill="#F2B70C"/>
<circle cx="458.3" cy="164.0" r="1.4" fill="#F2B70C"/>
<circle cx="460.7" cy="164.0" r="1.4" fill="#F2B70C"/>
<circle cx="457.7" cy="164.0" r="1.4" fill="#F2B70C"/>
<circle cx="457.9" cy="127.6" r="1.4" fill="#F2B70C"/>
<circle cx="459.1" cy="146.8" r="1.4" fill="#F2B70C"/>
<circle cx="460.6" cy="116.8" r="1.4" fill="#F2B70C"/>
<circle cx="458.8" cy="144.3" r="1.4" fill="#F2B70C"/>
<circle cx="458.6" cy="142.4" r="1.4" fill="#F2B70C"/>
<circle cx="459.1" cy="148.2" r="1.4" fill="#F2B70C"/>
<circle cx="457.5" cy="140.9" r="1.4" fill="#F2B70C"/>
<circle cx="476.6" cy="57.3" r="1.4" fill="#35A3DB"/>
<circle cx="474.2" cy="67.0" r="1.4" fill="#35A3DB"/>
<circle cx="474.6" cy="93.0" r="1.4" fill="#35A3DB"/>
<circle cx="475.4" cy="99.5" r="1.4" fill="#35A3DB"/>
<circle cx="475.0" cy="102.8" r="1.4" fill="#35A3DB"/>
<circle cx="475.8" cy="106.0" r="1.4" fill="#35A3DB"/>
<circle cx="475.0" cy="108.4" r="1.4" fill="#35A3DB"/>
<circle cx="475.8" cy="112.5" r="1.4" fill="#35A3DB"/>
<circle cx="475.0" cy="113.0" r="1.4" fill="#35A3DB"/>
<circle cx="475.4" cy="129.7" r="1.4" fill="#35A3DB"/>
<circle cx="476.2" cy="135.8" r="1.4" fill="#35A3DB"/>
<circle cx="475.0" cy="138.0" r="1.4" fill="#35A3DB"/>
<circle cx="474.6" cy="141.0" r="1.4" fill="#35A3DB"/>
<circle cx="474.2" cy="163.5" r="1.4" fill="#35A3DB"/>
<circle cx="476.6" cy="163.5" r="1.4" fill="#35A3DB"/>
<circle cx="475.9" cy="93.9" r="1.4" fill="#35A3DB"/>
<circle cx="475.8" cy="134.2" r="1.4" fill="#35A3DB"/>
<circle cx="473.6" cy="107.7" r="1.4" fill="#35A3DB"/>
<circle cx="475.3" cy="151.3" r="1.4" fill="#35A3DB"/>
<circle cx="475.7" cy="60.5" r="1.4" fill="#35A3DB"/>
<circle cx="475.4" cy="154.0" r="1.4" fill="#35A3DB"/>
<circle cx="476.8" cy="142.2" r="1.4" fill="#35A3DB"/>
<circle cx="475.6" cy="89.9" r="1.4" fill="#35A3DB"/>
<circle cx="489.8" cy="56.8" r="1.4" fill="#123D78"/>
<circle cx="491.8" cy="105.2" r="1.4" fill="#123D78"/>
<circle cx="493.0" cy="107.6" r="1.4" fill="#123D78"/>
<line x1="321.7" y1="31" x2="321.7" y2="179" stroke="#000" stroke-width="1.5"/>
<line x1="320.95" y1="178.7" x2="510.8" y2="178.7" stroke="#000" stroke-width="1.5"/>
<line x1="317.7" y1="43.4" x2="321.7" y2="43.4" stroke="#111" stroke-width="1.2"/>
<text x="312" y="47.3" text-anchor="end" font-size="11">10</text>
<line x1="317.7" y1="85.4" x2="321.7" y2="85.4" stroke="#111" stroke-width="1.2"/>
<text x="312" y="89.30000000000001" text-anchor="end" font-size="11">5</text>
<line x1="317.7" y1="127.2" x2="321.7" y2="127.2" stroke="#111" stroke-width="1.2"/>
<text x="312" y="131.1" text-anchor="end" font-size="11">0</text>
<line x1="317.7" y1="168.5" x2="321.7" y2="168.5" stroke="#111" stroke-width="1.2"/>
<text x="312" y="172.4" text-anchor="end" font-size="11">−5</text>
<line x1="356.8" y1="179" x2="356.8" y2="183" stroke="#111" stroke-width="1.2"/>
<text x="356.8" y="198" text-anchor="middle" font-size="11.3">day −5*</text>
<line x1="415.8" y1="179" x2="415.8" y2="183" stroke="#111" stroke-width="1.2"/>
<text x="415.8" y="198" text-anchor="middle" font-size="11.3">day 0*</text>
<line x1="475.2" y1="179" x2="475.2" y2="183" stroke="#111" stroke-width="1.2"/>
<text x="475.2" y="198" text-anchor="middle" font-size="11.3">day +3*</text>
<text transform="translate(290.3,105.8) rotate(-90)" text-anchor="middle" font-size="12.5" style="stroke-width:0.3px" textLength="67" lengthAdjust="spacingAndGlyphs">log2 (m-EASIX)</text>
<text x="267.6" y="21.9" font-size="16.5" font-weight="bold">B</text>
<line x1="335" y1="206.0" x2="335" y2="218.5" stroke="#F2B70C" stroke-width="1.3"/>
<rect x="330.6" y="208.5" width="8.8" height="7" fill="#FAE5B2"/>
<line x1="330.6" y1="212.0" x2="339.4" y2="212.0" stroke="#F2B70C" stroke-width="1.5"/>
<circle cx="335" cy="212.0" r="1.4" fill="#F2B70C"/>
<text x="344.6" y="215.5" font-size="11.3">None</text>
<line x1="385" y1="206.0" x2="385" y2="218.5" stroke="#35A3DB" stroke-width="1.3"/>
<rect x="380.6" y="208.5" width="8.8" height="7" fill="#BAD7F0"/>
<line x1="380.6" y1="212.0" x2="389.4" y2="212.0" stroke="#35A3DB" stroke-width="1.5"/>
<circle cx="385" cy="212.0" r="1.4" fill="#35A3DB"/>
<text x="394.6" y="215.5" font-size="11.3">Mild</text>
<line x1="428.9" y1="206.0" x2="428.9" y2="218.5" stroke="#123D78" stroke-width="1.3"/>
<rect x="424.5" y="208.5" width="8.8" height="7" fill="#949DC2"/>
<line x1="424.5" y1="212.0" x2="433.29999999999995" y2="212.0" stroke="#123D78" stroke-width="1.5"/>
<circle cx="428.9" cy="212.0" r="1.4" fill="#123D78"/>
<text x="438.5" y="215.5" font-size="11.3">Severe CRS</text>
<line x1="74.7" y1="333.2" x2="74.7" y2="361.4" stroke="#C6C7CC" stroke-width="1.7"/>
<line x1="74.7" y1="384.5" x2="74.7" y2="406.8" stroke="#C6C7CC" stroke-width="1.7"/>
<rect x="67.9" y="361.4" width="13.6" height="23.1" fill="#E5E6EB"/>
<line x1="67.9" y1="378" x2="81.5" y2="378" stroke="#C6C7CC" stroke-width="2.8"/>
<line x1="90.5" y1="281.4" x2="90.5" y2="316.7" stroke="#E48C80" stroke-width="1.7"/>
<line x1="90.5" y1="364.6" x2="90.5" y2="399.7" stroke="#E48C80" stroke-width="1.7"/>
<rect x="83.7" y="316.7" width="13.6" height="47.9" fill="#F8D7D1"/>
<line x1="83.7" y1="348" x2="97.3" y2="348" stroke="#E48C80" stroke-width="2.8"/>
<line x1="106.3" y1="319.5" x2="106.3" y2="336.9" stroke="#BB0C2A" stroke-width="1.7"/>
<line x1="106.3" y1="372.9" x2="106.3" y2="387.4" stroke="#BB0C2A" stroke-width="1.7"/>
<rect x="99.5" y="336.9" width="13.6" height="36.0" fill="#E8948C"/>
<line x1="99.5" y1="363.5" x2="113.1" y2="363.5" stroke="#BB0C2A" stroke-width="2.8"/>
<line x1="133.9" y1="316.4" x2="133.9" y2="357.1" stroke="#C6C7CC" stroke-width="1.7"/>
<line x1="133.9" y1="384.6" x2="133.9" y2="398.7" stroke="#C6C7CC" stroke-width="1.7"/>
<rect x="127.1" y="357.1" width="13.6" height="27.5" fill="#E5E6EB"/>
<line x1="127.1" y1="371" x2="140.7" y2="371" stroke="#C6C7CC" stroke-width="2.8"/>
<line x1="149.7" y1="323.1" x2="149.7" y2="335.9" stroke="#E48C80" stroke-width="1.7"/>
<line x1="149.7" y1="355" x2="149.7" y2="374.4" stroke="#E48C80" stroke-width="1.7"/>
<rect x="142.9" y="335.9" width="13.6" height="19.1" fill="#F8D7D1"/>
<line x1="142.9" y1="347.4" x2="156.5" y2="347.4" stroke="#E48C80" stroke-width="2.8"/>
<line x1="165.5" y1="331.1" x2="165.5" y2="344.1" stroke="#BB0C2A" stroke-width="1.7"/>
<line x1="165.5" y1="371.4" x2="165.5" y2="389.4" stroke="#BB0C2A" stroke-width="1.7"/>
<rect x="158.7" y="344.1" width="13.6" height="27.3" fill="#E8948C"/>
<line x1="158.7" y1="355.6" x2="172.3" y2="355.6" stroke="#BB0C2A" stroke-width="2.8"/>
<line x1="193.0" y1="326.8" x2="193.0" y2="358.8" stroke="#C6C7CC" stroke-width="1.7"/>
<line x1="193.0" y1="384.6" x2="193.0" y2="395.7" stroke="#C6C7CC" stroke-width="1.7"/>
<rect x="186.2" y="358.8" width="13.6" height="25.8" fill="#E5E6EB"/>
<line x1="186.2" y1="371.8" x2="199.8" y2="371.8" stroke="#C6C7CC" stroke-width="2.8"/>
<line x1="208.8" y1="313.6" x2="208.8" y2="335.9" stroke="#E48C80" stroke-width="1.7"/>
<line x1="208.8" y1="360.2" x2="208.8" y2="391.3" stroke="#E48C80" stroke-width="1.7"/>
<rect x="202.0" y="335.9" width="13.6" height="24.3" fill="#F8D7D1"/>
<line x1="202.0" y1="345.3" x2="215.6" y2="345.3" stroke="#E48C80" stroke-width="2.8"/>
<line x1="224.6" y1="301.8" x2="224.6" y2="326.6" stroke="#BB0C2A" stroke-width="1.7"/>
<line x1="224.6" y1="366.3" x2="224.6" y2="371.6" stroke="#BB0C2A" stroke-width="1.7"/>
<rect x="217.8" y="326.6" width="13.6" height="39.7" fill="#E8948C"/>
<line x1="217.8" y1="361.3" x2="231.4" y2="361.3" stroke="#BB0C2A" stroke-width="2.8"/>
<circle cx="76.6" cy="271.8" r="1.4" fill="#C6C7CC"/>
<circle cx="77.0" cy="278.8" r="1.4" fill="#C6C7CC"/>
<circle cx="75.0" cy="307.7" r="1.4" fill="#C6C7CC"/>
<circle cx="76.3" cy="324.7" r="1.4" fill="#C6C7CC"/>
<circle cx="74.0" cy="333.2" r="1.4" fill="#C6C7CC"/>
<circle cx="76.0" cy="337.0" r="1.4" fill="#C6C7CC"/>
<circle cx="74.0" cy="334.0" r="1.4" fill="#C6C7CC"/>
<circle cx="77.0" cy="340.0" r="1.4" fill="#C6C7CC"/>
<circle cx="75.0" cy="345.0" r="1.4" fill="#C6C7CC"/>
<circle cx="73.0" cy="350.0" r="1.4" fill="#C6C7CC"/>
<circle cx="76.0" cy="354.0" r="1.4" fill="#C6C7CC"/>
<circle cx="74.0" cy="358.0" r="1.4" fill="#C6C7CC"/>
<circle cx="77.0" cy="362.0" r="1.4" fill="#C6C7CC"/>
<circle cx="75.0" cy="365.0" r="1.4" fill="#C6C7CC"/>
<circle cx="73.0" cy="368.0" r="1.4" fill="#C6C7CC"/>
<circle cx="76.0" cy="371.0" r="1.4" fill="#C6C7CC"/>
<circle cx="74.0" cy="374.0" r="1.4" fill="#C6C7CC"/>
<circle cx="77.0" cy="377.0" r="1.4" fill="#C6C7CC"/>
<circle cx="73.0" cy="380.0" r="1.4" fill="#C6C7CC"/>
<circle cx="76.0" cy="383.0" r="1.4" fill="#C6C7CC"/>
<circle cx="74.0" cy="386.0" r="1.4" fill="#C6C7CC"/>
<circle cx="77.0" cy="389.0" r="1.4" fill="#C6C7CC"/>
<circle cx="75.0" cy="392.0" r="1.4" fill="#C6C7CC"/>
<circle cx="73.0" cy="395.0" r="1.4" fill="#C6C7CC"/>
<circle cx="76.0" cy="398.0" r="1.4" fill="#C6C7CC"/>
<circle cx="74.0" cy="401.0" r="1.4" fill="#C6C7CC"/>
<circle cx="75.0" cy="405.0" r="1.4" fill="#C6C7CC"/>
<circle cx="74.9" cy="350.9" r="1.4" fill="#C6C7CC"/>
<circle cx="72.6" cy="395.3" r="1.4" fill="#C6C7CC"/>
<circle cx="76.1" cy="390.5" r="1.4" fill="#C6C7CC"/>
<circle cx="75.9" cy="335.4" r="1.4" fill="#C6C7CC"/>
<circle cx="72.8" cy="400.2" r="1.4" fill="#C6C7CC"/>
<circle cx="72.7" cy="372.5" r="1.4" fill="#C6C7CC"/>
<circle cx="74.9" cy="391.0" r="1.4" fill="#C6C7CC"/>
<circle cx="73.5" cy="375.5" r="1.4" fill="#C6C7CC"/>
<circle cx="76.4" cy="395.7" r="1.4" fill="#C6C7CC"/>
<circle cx="76.3" cy="362.2" r="1.4" fill="#C6C7CC"/>
<circle cx="76.5" cy="362.9" r="1.4" fill="#C6C7CC"/>
<circle cx="73.4" cy="369.6" r="1.4" fill="#C6C7CC"/>
<circle cx="72.1" cy="373.4" r="1.4" fill="#C6C7CC"/>
<circle cx="72.0" cy="380.5" r="1.4" fill="#C6C7CC"/>
<circle cx="71.9" cy="380.0" r="1.4" fill="#C6C7CC"/>
<circle cx="73.9" cy="369.7" r="1.4" fill="#C6C7CC"/>
<circle cx="71.5" cy="406.4" r="1.4" fill="#C6C7CC"/>
<circle cx="76.2" cy="383.9" r="1.4" fill="#C6C7CC"/>
<circle cx="73.9" cy="369.7" r="1.4" fill="#C6C7CC"/>
<circle cx="75.4" cy="343.1" r="1.4" fill="#C6C7CC"/>
<circle cx="77.1" cy="337.0" r="1.4" fill="#C6C7CC"/>
<circle cx="76.1" cy="364.5" r="1.4" fill="#C6C7CC"/>
<circle cx="89.5" cy="281.2" r="1.4" fill="#E48C80"/>
<circle cx="91.0" cy="299.9" r="1.4" fill="#E48C80"/>
<circle cx="92.5" cy="313.7" r="1.4" fill="#E48C80"/>
<circle cx="90.0" cy="325.0" r="1.4" fill="#E48C80"/>
<circle cx="89.5" cy="346.5" r="1.4" fill="#E48C80"/>
<circle cx="91.5" cy="351.6" r="1.4" fill="#E48C80"/>
<circle cx="91.0" cy="359.4" r="1.4" fill="#E48C80"/>
<circle cx="90.0" cy="366.4" r="1.4" fill="#E48C80"/>
<circle cx="91.0" cy="370.7" r="1.4" fill="#E48C80"/>
<circle cx="88.5" cy="400.1" r="1.4" fill="#E48C80"/>
<circle cx="106.0" cy="319.4" r="1.4" fill="#BB0C2A"/>
<circle cx="107.0" cy="333.2" r="1.4" fill="#BB0C2A"/>
<circle cx="109.0" cy="336.0" r="1.4" fill="#BB0C2A"/>
<circle cx="107.0" cy="339.5" r="1.4" fill="#BB0C2A"/>
<circle cx="106.5" cy="367.2" r="1.4" fill="#BB0C2A"/>
<circle cx="105.0" cy="379.4" r="1.4" fill="#BB0C2A"/>
<circle cx="105.5" cy="386.8" r="1.4" fill="#BB0C2A"/>
<circle cx="133.5" cy="316.0" r="1.4" fill="#C6C7CC"/>
<circle cx="135.5" cy="316.5" r="1.4" fill="#C6C7CC"/>
<circle cx="134.0" cy="320.8" r="1.4" fill="#C6C7CC"/>
<circle cx="133.0" cy="324.9" r="1.4" fill="#C6C7CC"/>
<circle cx="135.0" cy="330.6" r="1.4" fill="#C6C7CC"/>
<circle cx="136.0" cy="346.0" r="1.4" fill="#C6C7CC"/>
<circle cx="134.0" cy="350.0" r="1.4" fill="#C6C7CC"/>
<circle cx="133.0" cy="353.0" r="1.4" fill="#C6C7CC"/>
<circle cx="135.0" cy="356.0" r="1.4" fill="#C6C7CC"/>
<circle cx="134.0" cy="360.0" r="1.4" fill="#C6C7CC"/>
<circle cx="133.0" cy="348.0" r="1.4" fill="#C6C7CC"/>
<circle cx="136.0" cy="352.0" r="1.4" fill="#C6C7CC"/>
<circle cx="132.0" cy="360.0" r="1.4" fill="#C6C7CC"/>
<circle cx="135.0" cy="364.0" r="1.4" fill="#C6C7CC"/>
<circle cx="137.0" cy="367.0" r="1.4" fill="#C6C7CC"/>
<circle cx="133.0" cy="370.0" r="1.4" fill="#C6C7CC"/>
<circle cx="135.0" cy="373.0" r="1.4" fill="#C6C7CC"/>
<circle cx="132.0" cy="376.0" r="1.4" fill="#C6C7CC"/>
<circle cx="136.0" cy="379.0" r="1.4" fill="#C6C7CC"/>
<circle cx="134.0" cy="382.0" r="1.4" fill="#C6C7CC"/>
<circle cx="133.0" cy="386.0" r="1.4" fill="#C6C7CC"/>
<circle cx="136.0" cy="389.0" r="1.4" fill="#C6C7CC"/>
<circle cx="134.0" cy="392.0" r="1.4" fill="#C6C7CC"/>
<circle cx="133.0" cy="395.0" r="1.4" fill="#C6C7CC"/>
<circle cx="134.5" cy="398.0" r="1.4" fill="#C6C7CC"/>
<circle cx="134.5" cy="376.0" r="1.4" fill="#C6C7CC"/>
<circle cx="133.7" cy="366.2" r="1.4" fill="#C6C7CC"/>
<circle cx="134.5" cy="329.4" r="1.4" fill="#C6C7CC"/>
<circle cx="135.6" cy="377.0" r="1.4" fill="#C6C7CC"/>
<circle cx="131.1" cy="319.9" r="1.4" fill="#C6C7CC"/>
<circle cx="136.2" cy="374.4" r="1.4" fill="#C6C7CC"/>
<circle cx="131.9" cy="327.0" r="1.4" fill="#C6C7CC"/>
<circle cx="134.2" cy="382.2" r="1.4" fill="#C6C7CC"/>
<circle cx="133.4" cy="356.7" r="1.4" fill="#C6C7CC"/>
<circle cx="137.3" cy="353.8" r="1.4" fill="#C6C7CC"/>
<circle cx="135.5" cy="331.9" r="1.4" fill="#C6C7CC"/>
<circle cx="137.0" cy="345.4" r="1.4" fill="#C6C7CC"/>
<circle cx="134.7" cy="360.2" r="1.4" fill="#C6C7CC"/>
<circle cx="133.2" cy="392.5" r="1.4" fill="#C6C7CC"/>
<circle cx="131.2" cy="363.9" r="1.4" fill="#C6C7CC"/>
<circle cx="135.3" cy="320.2" r="1.4" fill="#C6C7CC"/>
<circle cx="134.5" cy="394.2" r="1.4" fill="#C6C7CC"/>
<circle cx="133.2" cy="362.9" r="1.4" fill="#C6C7CC"/>
<circle cx="135.9" cy="383.1" r="1.4" fill="#C6C7CC"/>
<circle cx="132.1" cy="360.1" r="1.4" fill="#C6C7CC"/>
<circle cx="131.2" cy="378.9" r="1.4" fill="#C6C7CC"/>
<circle cx="133.4" cy="397.8" r="1.4" fill="#C6C7CC"/>
<circle cx="152.5" cy="302.2" r="1.4" fill="#E48C80"/>
<circle cx="151.0" cy="323.8" r="1.4" fill="#E48C80"/>
<circle cx="148.0" cy="333.8" r="1.4" fill="#E48C80"/>
<circle cx="148.5" cy="341.6" r="1.4" fill="#E48C80"/>
<circle cx="149.0" cy="351.7" r="1.4" fill="#E48C80"/>
<circle cx="150.0" cy="357.0" r="1.4" fill="#E48C80"/>
<circle cx="149.5" cy="374.6" r="1.4" fill="#E48C80"/>
<circle cx="150.3" cy="391.9" r="1.4" fill="#E48C80"/>
<circle cx="165.5" cy="331.4" r="1.4" fill="#BB0C2A"/>
<circle cx="163.0" cy="333.8" r="1.4" fill="#BB0C2A"/>
<circle cx="166.0" cy="353.3" r="1.4" fill="#BB0C2A"/>
<circle cx="164.0" cy="361.4" r="1.4" fill="#BB0C2A"/>
<circle cx="166.5" cy="352.7" r="1.4" fill="#BB0C2A"/>
<circle cx="163.0" cy="382.3" r="1.4" fill="#BB0C2A"/>
<circle cx="167.0" cy="389.4" r="1.4" fill="#BB0C2A"/>
<circle cx="192.0" cy="325.8" r="1.4" fill="#C6C7CC"/>
<circle cx="194.5" cy="328.3" r="1.4" fill="#C6C7CC"/>
<circle cx="193.0" cy="333.1" r="1.4" fill="#C6C7CC"/>
<circle cx="194.0" cy="342.0" r="1.4" fill="#C6C7CC"/>
<circle cx="192.5" cy="348.6" r="1.4" fill="#C6C7CC"/>
<circle cx="193.5" cy="354.0" r="1.4" fill="#C6C7CC"/>
<circle cx="195.0" cy="358.0" r="1.4" fill="#C6C7CC"/>
<circle cx="192.0" cy="362.0" r="1.4" fill="#C6C7CC"/>
<circle cx="194.0" cy="366.0" r="1.4" fill="#C6C7CC"/>
<circle cx="192.0" cy="352.0" r="1.4" fill="#C6C7CC"/>
<circle cx="195.0" cy="356.0" r="1.4" fill="#C6C7CC"/>
<circle cx="191.0" cy="364.0" r="1.4" fill="#C6C7CC"/>
<circle cx="194.0" cy="368.0" r="1.4" fill="#C6C7CC"/>
<circle cx="196.0" cy="371.0" r="1.4" fill="#C6C7CC"/>
<circle cx="192.0" cy="374.0" r="1.4" fill="#C6C7CC"/>
<circle cx="194.0" cy="377.0" r="1.4" fill="#C6C7CC"/>
<circle cx="193.0" cy="380.0" r="1.4" fill="#C6C7CC"/>
<circle cx="191.0" cy="384.0" r="1.4" fill="#C6C7CC"/>
<circle cx="195.0" cy="387.0" r="1.4" fill="#C6C7CC"/>
<circle cx="193.0" cy="390.0" r="1.4" fill="#C6C7CC"/>
<circle cx="192.0" cy="393.0" r="1.4" fill="#C6C7CC"/>
<circle cx="194.0" cy="395.0" r="1.4" fill="#C6C7CC"/>
<circle cx="192.6" cy="386.8" r="1.4" fill="#C6C7CC"/>
<circle cx="195.5" cy="342.1" r="1.4" fill="#C6C7CC"/>
<circle cx="196.4" cy="363.3" r="1.4" fill="#C6C7CC"/>
<circle cx="196.0" cy="327.0" r="1.4" fill="#C6C7CC"/>
<circle cx="192.0" cy="376.5" r="1.4" fill="#C6C7CC"/>
<circle cx="190.0" cy="345.7" r="1.4" fill="#C6C7CC"/>
<circle cx="192.0" cy="374.1" r="1.4" fill="#C6C7CC"/>
<circle cx="195.2" cy="368.0" r="1.4" fill="#C6C7CC"/>
<circle cx="195.9" cy="390.8" r="1.4" fill="#C6C7CC"/>
<circle cx="193.8" cy="382.3" r="1.4" fill="#C6C7CC"/>
<circle cx="189.9" cy="380.3" r="1.4" fill="#C6C7CC"/>
<circle cx="193.6" cy="377.8" r="1.4" fill="#C6C7CC"/>
<circle cx="190.9" cy="384.1" r="1.4" fill="#C6C7CC"/>
<circle cx="195.0" cy="385.5" r="1.4" fill="#C6C7CC"/>
<circle cx="195.1" cy="361.5" r="1.4" fill="#C6C7CC"/>
<circle cx="195.2" cy="391.4" r="1.4" fill="#C6C7CC"/>
<circle cx="193.0" cy="350.3" r="1.4" fill="#C6C7CC"/>
<circle cx="191.6" cy="361.0" r="1.4" fill="#C6C7CC"/>
<circle cx="192.2" cy="365.4" r="1.4" fill="#C6C7CC"/>
<circle cx="189.5" cy="395.2" r="1.4" fill="#C6C7CC"/>
<circle cx="194.1" cy="394.8" r="1.4" fill="#C6C7CC"/>
<circle cx="194.0" cy="369.2" r="1.4" fill="#C6C7CC"/>
<circle cx="211.0" cy="313.7" r="1.4" fill="#E48C80"/>
<circle cx="207.5" cy="317.7" r="1.4" fill="#E48C80"/>
<circle cx="209.0" cy="336.4" r="1.4" fill="#E48C80"/>
<circle cx="210.0" cy="356.7" r="1.4" fill="#E48C80"/>
<circle cx="209.0" cy="379.2" r="1.4" fill="#E48C80"/>
<circle cx="210.0" cy="391.6" r="1.4" fill="#E48C80"/>
<circle cx="224.5" cy="301.8" r="1.4" fill="#BB0C2A"/>
<circle cx="223.0" cy="312.5" r="1.4" fill="#BB0C2A"/>
<circle cx="224.0" cy="338.8" r="1.4" fill="#BB0C2A"/>
<circle cx="224.5" cy="363.2" r="1.4" fill="#BB0C2A"/>
<circle cx="224.0" cy="363.6" r="1.4" fill="#BB0C2A"/>
<circle cx="224.5" cy="369.5" r="1.4" fill="#BB0C2A"/>
<circle cx="226.0" cy="371.5" r="1.4" fill="#BB0C2A"/>
<line x1="55.3" y1="264.7" x2="55.3" y2="412.8" stroke="#000" stroke-width="1.5"/>
<line x1="54.55" y1="412.5" x2="244" y2="412.5" stroke="#000" stroke-width="1.5"/>
<line x1="51.3" y1="269.7" x2="55.3" y2="269.7" stroke="#111" stroke-width="1.2"/>
<text x="45.8" y="273.59999999999997" text-anchor="end" font-size="11">8</text>
<line x1="51.3" y1="317.8" x2="55.3" y2="317.8" stroke="#111" stroke-width="1.2"/>
<text x="45.8" y="321.7" text-anchor="end" font-size="11">4</text>
<line x1="51.3" y1="365.8" x2="55.3" y2="365.8" stroke="#111" stroke-width="1.2"/>
<text x="45.8" y="369.7" text-anchor="end" font-size="11">0</text>
<line x1="90.5" y1="412.8" x2="90.5" y2="416.8" stroke="#111" stroke-width="1.2"/>
<text x="90.5" y="432.5" text-anchor="middle" font-size="11.3">day −5</text>
<line x1="149.7" y1="412.8" x2="149.7" y2="416.8" stroke="#111" stroke-width="1.2"/>
<text x="149.7" y="432.5" text-anchor="middle" font-size="11.3">day 0</text>
<line x1="208.8" y1="412.8" x2="208.8" y2="416.8" stroke="#111" stroke-width="1.2"/>
<text x="208.8" y="432.5" text-anchor="middle" font-size="11.3">day +3</text>
<text transform="translate(30.7,340) rotate(-90)" text-anchor="middle" font-size="12.5" style="stroke-width:0.3px" textLength="56" lengthAdjust="spacingAndGlyphs">log2 (EASIX)</text>
<text x="10.6" y="255.8" font-size="16.5" font-weight="bold">C</text>
<line x1="63.5" y1="440.2" x2="63.5" y2="452.7" stroke="#C6C7CC" stroke-width="1.3"/>
<rect x="59.1" y="442.7" width="8.8" height="7" fill="#E5E6EB"/>
<line x1="59.1" y1="446.2" x2="67.9" y2="446.2" stroke="#C6C7CC" stroke-width="1.5"/>
<circle cx="63.5" cy="446.2" r="1.4" fill="#C6C7CC"/>
<text x="73.1" y="449.7" font-size="11.3">None</text>
<line x1="113" y1="440.2" x2="113" y2="452.7" stroke="#E48C80" stroke-width="1.3"/>
<rect x="108.6" y="442.7" width="8.8" height="7" fill="#F8D7D1"/>
<line x1="108.6" y1="446.2" x2="117.4" y2="446.2" stroke="#E48C80" stroke-width="1.5"/>
<circle cx="113" cy="446.2" r="1.4" fill="#E48C80"/>
<text x="122.6" y="449.7" font-size="11.3">Mild</text>
<line x1="156.6" y1="440.2" x2="156.6" y2="452.7" stroke="#BB0C2A" stroke-width="1.3"/>
<rect x="152.2" y="442.7" width="8.8" height="7" fill="#E8948C"/>
<line x1="152.2" y1="446.2" x2="161.0" y2="446.2" stroke="#BB0C2A" stroke-width="1.5"/>
<circle cx="156.6" cy="446.2" r="1.4" fill="#BB0C2A"/>
<text x="166.2" y="449.7" font-size="11.3">Severe ICANS</text>
<line x1="341.0" y1="276.2" x2="341.0" y2="349.3" stroke="#C6C7CC" stroke-width="1.7"/>
<line x1="341.0" y1="406.2" x2="341.0" y2="406.2" stroke="#C6C7CC" stroke-width="1.7"/>
<rect x="334.2" y="349.3" width="13.6" height="56.9" fill="#E5E6EB"/>
<line x1="334.2" y1="380.4" x2="347.8" y2="380.4" stroke="#C6C7CC" stroke-width="2.8"/>
<line x1="356.8" y1="300" x2="356.8" y2="347.6" stroke="#E48C80" stroke-width="1.7"/>
<line x1="356.8" y1="406.2" x2="356.8" y2="406.2" stroke="#E48C80" stroke-width="1.7"/>
<rect x="350.0" y="347.6" width="13.6" height="58.6" fill="#F8D7D1"/>
<line x1="350.0" y1="374" x2="363.6" y2="374" stroke="#E48C80" stroke-width="2.8"/>
<line x1="372.6" y1="282.7" x2="372.6" y2="313.4" stroke="#BB0C2A" stroke-width="1.7"/>
<line x1="372.6" y1="376.1" x2="372.6" y2="406.2" stroke="#BB0C2A" stroke-width="1.7"/>
<rect x="365.8" y="313.4" width="13.6" height="62.7" fill="#E8948C"/>
<line x1="365.8" y1="345.6" x2="379.4" y2="345.6" stroke="#BB0C2A" stroke-width="2.8"/>
<line x1="400.0" y1="287.7" x2="400.0" y2="338.3" stroke="#C6C7CC" stroke-width="1.7"/>
<line x1="400.0" y1="400.3" x2="400.0" y2="400.3" stroke="#C6C7CC" stroke-width="1.7"/>
<rect x="393.2" y="338.3" width="13.6" height="62.0" fill="#E5E6EB"/>
<line x1="393.2" y1="363.5" x2="406.8" y2="363.5" stroke="#C6C7CC" stroke-width="2.8"/>
<line x1="415.8" y1="282" x2="415.8" y2="321.7" stroke="#E48C80" stroke-width="1.7"/>
<line x1="415.8" y1="370" x2="415.8" y2="400.5" stroke="#E48C80" stroke-width="1.7"/>
<rect x="409.0" y="321.7" width="13.6" height="48.3" fill="#F8D7D1"/>
<line x1="409.0" y1="349" x2="422.6" y2="349" stroke="#E48C80" stroke-width="2.8"/>
<line x1="431.6" y1="302.2" x2="431.6" y2="312" stroke="#BB0C2A" stroke-width="1.7"/>
<line x1="431.6" y1="370.3" x2="431.6" y2="400.1" stroke="#BB0C2A" stroke-width="1.7"/>
<rect x="424.8" y="312" width="13.6" height="58.3" fill="#E8948C"/>
<line x1="424.8" y1="334.3" x2="438.4" y2="334.3" stroke="#BB0C2A" stroke-width="2.8"/>
<line x1="459.4" y1="277.8" x2="459.4" y2="343.8" stroke="#C6C7CC" stroke-width="1.7"/>
<line x1="459.4" y1="388.4" x2="459.4" y2="398.8" stroke="#C6C7CC" stroke-width="1.7"/>
<rect x="452.6" y="343.8" width="13.6" height="44.6" fill="#E5E6EB"/>
<line x1="452.6" y1="367.7" x2="466.2" y2="367.7" stroke="#C6C7CC" stroke-width="2.8"/>
<line x1="475.2" y1="295.7" x2="475.2" y2="325.2" stroke="#E48C80" stroke-width="1.7"/>
<line x1="475.2" y1="362.5" x2="475.2" y2="398.8" stroke="#E48C80" stroke-width="1.7"/>
<rect x="468.4" y="325.2" width="13.6" height="37.3" fill="#F8D7D1"/>
<line x1="468.4" y1="362.2" x2="482.0" y2="362.2" stroke="#E48C80" stroke-width="2.8"/>
<line x1="491.0" y1="271.9" x2="491.0" y2="308" stroke="#BB0C2A" stroke-width="1.7"/>
<line x1="491.0" y1="333.2" x2="491.0" y2="337.5" stroke="#BB0C2A" stroke-width="1.7"/>
<rect x="484.2" y="308" width="13.6" height="25.2" fill="#E8948C"/>
<line x1="484.2" y1="318.9" x2="497.8" y2="318.9" stroke="#BB0C2A" stroke-width="2.8"/>
<circle cx="342.5" cy="276.4" r="1.4" fill="#C6C7CC"/>
<circle cx="342.5" cy="283.2" r="1.4" fill="#C6C7CC"/>
<circle cx="341.0" cy="289.4" r="1.4" fill="#C6C7CC"/>
<circle cx="341.5" cy="301.5" r="1.4" fill="#C6C7CC"/>
<circle cx="339.5" cy="313.4" r="1.4" fill="#C6C7CC"/>
<circle cx="341.0" cy="320.2" r="1.4" fill="#C6C7CC"/>
<circle cx="342.0" cy="323.4" r="1.4" fill="#C6C7CC"/>
<circle cx="340.0" cy="326.7" r="1.4" fill="#C6C7CC"/>
<circle cx="338.5" cy="334.0" r="1.4" fill="#C6C7CC"/>
<circle cx="340.0" cy="333.5" r="1.4" fill="#C6C7CC"/>
<circle cx="342.0" cy="337.0" r="1.4" fill="#C6C7CC"/>
<circle cx="341.0" cy="342.1" r="1.4" fill="#C6C7CC"/>
<circle cx="339.0" cy="346.0" r="1.4" fill="#C6C7CC"/>
<circle cx="340.0" cy="356.0" r="1.4" fill="#C6C7CC"/>
<circle cx="341.5" cy="360.0" r="1.4" fill="#C6C7CC"/>
<circle cx="339.5" cy="367.2" r="1.4" fill="#C6C7CC"/>
<circle cx="341.0" cy="371.0" r="1.4" fill="#C6C7CC"/>
<circle cx="340.0" cy="376.0" r="1.4" fill="#C6C7CC"/>
<circle cx="341.5" cy="385.4" r="1.4" fill="#C6C7CC"/>
<circle cx="340.0" cy="390.0" r="1.4" fill="#C6C7CC"/>
<circle cx="339.5" cy="393.0" r="1.4" fill="#C6C7CC"/>
<circle cx="341.0" cy="397.0" r="1.4" fill="#C6C7CC"/>
<circle cx="340.0" cy="406.0" r="1.4" fill="#C6C7CC"/>
<circle cx="342.0" cy="406.0" r="1.4" fill="#C6C7CC"/>
<circle cx="338.8" cy="360.7" r="1.4" fill="#C6C7CC"/>
<circle cx="339.3" cy="392.5" r="1.4" fill="#C6C7CC"/>
<circle cx="341.3" cy="388.2" r="1.4" fill="#C6C7CC"/>
<circle cx="340.5" cy="406.2" r="1.4" fill="#C6C7CC"/>
<circle cx="343.8" cy="292.0" r="1.4" fill="#C6C7CC"/>
<circle cx="342.3" cy="371.4" r="1.4" fill="#C6C7CC"/>
<circle cx="343.4" cy="386.9" r="1.4" fill="#C6C7CC"/>
<circle cx="341.2" cy="403.2" r="1.4" fill="#C6C7CC"/>
<circle cx="340.3" cy="310.5" r="1.4" fill="#C6C7CC"/>
<circle cx="338.9" cy="349.7" r="1.4" fill="#C6C7CC"/>
<circle cx="340.7" cy="406.2" r="1.4" fill="#C6C7CC"/>
<circle cx="344.3" cy="406.2" r="1.4" fill="#C6C7CC"/>
<circle cx="343.9" cy="361.6" r="1.4" fill="#C6C7CC"/>
<circle cx="341.7" cy="394.4" r="1.4" fill="#C6C7CC"/>
<circle cx="357.5" cy="299.1" r="1.4" fill="#E48C80"/>
<circle cx="359.0" cy="300.5" r="1.4" fill="#E48C80"/>
<circle cx="356.5" cy="346.5" r="1.4" fill="#E48C80"/>
<circle cx="355.5" cy="356.8" r="1.4" fill="#E48C80"/>
<circle cx="356.0" cy="406.0" r="1.4" fill="#E48C80"/>
<circle cx="358.0" cy="406.0" r="1.4" fill="#E48C80"/>
<circle cx="374.5" cy="282.9" r="1.4" fill="#BB0C2A"/>
<circle cx="373.0" cy="284.5" r="1.4" fill="#BB0C2A"/>
<circle cx="372.0" cy="311.3" r="1.4" fill="#BB0C2A"/>
<circle cx="373.5" cy="316.6" r="1.4" fill="#BB0C2A"/>
<circle cx="372.0" cy="347.3" r="1.4" fill="#BB0C2A"/>
<circle cx="371.5" cy="406.2" r="1.4" fill="#BB0C2A"/>
<circle cx="401.5" cy="288.8" r="1.4" fill="#C6C7CC"/>
<circle cx="400.0" cy="292.0" r="1.4" fill="#C6C7CC"/>
<circle cx="401.0" cy="294.0" r="1.4" fill="#C6C7CC"/>
<circle cx="400.5" cy="322.9" r="1.4" fill="#C6C7CC"/>
<circle cx="399.0" cy="325.0" r="1.4" fill="#C6C7CC"/>
<circle cx="401.0" cy="327.0" r="1.4" fill="#C6C7CC"/>
<circle cx="400.0" cy="336.7" r="1.4" fill="#C6C7CC"/>
<circle cx="401.5" cy="341.6" r="1.4" fill="#C6C7CC"/>
<circle cx="400.5" cy="342.3" r="1.4" fill="#C6C7CC"/>
<circle cx="398.5" cy="351.2" r="1.4" fill="#C6C7CC"/>
<circle cx="400.5" cy="356.1" r="1.4" fill="#C6C7CC"/>
<circle cx="399.0" cy="360.0" r="1.4" fill="#C6C7CC"/>
<circle cx="401.0" cy="364.0" r="1.4" fill="#C6C7CC"/>
<circle cx="399.5" cy="369.1" r="1.4" fill="#C6C7CC"/>
<circle cx="400.0" cy="373.1" r="1.4" fill="#C6C7CC"/>
<circle cx="399.0" cy="391.0" r="1.4" fill="#C6C7CC"/>
<circle cx="400.0" cy="394.0" r="1.4" fill="#C6C7CC"/>
<circle cx="399.0" cy="400.3" r="1.4" fill="#C6C7CC"/>
<circle cx="401.0" cy="400.3" r="1.4" fill="#C6C7CC"/>
<circle cx="401.1" cy="400.3" r="1.4" fill="#C6C7CC"/>
<circle cx="399.8" cy="339.7" r="1.4" fill="#C6C7CC"/>
<circle cx="399.5" cy="400.3" r="1.4" fill="#C6C7CC"/>
<circle cx="396.5" cy="357.5" r="1.4" fill="#C6C7CC"/>
<circle cx="397.9" cy="370.8" r="1.4" fill="#C6C7CC"/>
<circle cx="398.0" cy="290.5" r="1.4" fill="#C6C7CC"/>
<circle cx="401.8" cy="363.4" r="1.4" fill="#C6C7CC"/>
<circle cx="403.0" cy="381.4" r="1.4" fill="#C6C7CC"/>
<circle cx="400.7" cy="391.9" r="1.4" fill="#C6C7CC"/>
<circle cx="399.4" cy="318.5" r="1.4" fill="#C6C7CC"/>
<circle cx="397.7" cy="347.2" r="1.4" fill="#C6C7CC"/>
<circle cx="398.0" cy="347.3" r="1.4" fill="#C6C7CC"/>
<circle cx="402.1" cy="386.1" r="1.4" fill="#C6C7CC"/>
<circle cx="402.3" cy="400.3" r="1.4" fill="#C6C7CC"/>
<circle cx="418.0" cy="282.3" r="1.4" fill="#E48C80"/>
<circle cx="417.0" cy="296.1" r="1.4" fill="#E48C80"/>
<circle cx="414.0" cy="318.0" r="1.4" fill="#E48C80"/>
<circle cx="413.5" cy="334.3" r="1.4" fill="#E48C80"/>
<circle cx="414.0" cy="368.3" r="1.4" fill="#E48C80"/>
<circle cx="415.0" cy="370.5" r="1.4" fill="#E48C80"/>
<circle cx="414.5" cy="400.5" r="1.4" fill="#E48C80"/>
<circle cx="417.0" cy="400.5" r="1.4" fill="#E48C80"/>
<circle cx="430.0" cy="303.4" r="1.4" fill="#BB0C2A"/>
<circle cx="431.5" cy="306.0" r="1.4" fill="#BB0C2A"/>
<circle cx="432.0" cy="309.0" r="1.4" fill="#BB0C2A"/>
<circle cx="432.5" cy="315.6" r="1.4" fill="#BB0C2A"/>
<circle cx="432.5" cy="341.6" r="1.4" fill="#BB0C2A"/>
<circle cx="432.0" cy="341.5" r="1.4" fill="#BB0C2A"/>
<circle cx="430.5" cy="400.5" r="1.4" fill="#BB0C2A"/>
<circle cx="433.5" cy="400.5" r="1.4" fill="#BB0C2A"/>
<circle cx="459.5" cy="278.8" r="1.4" fill="#C6C7CC"/>
<circle cx="458.0" cy="295.0" r="1.4" fill="#C6C7CC"/>
<circle cx="459.5" cy="316.1" r="1.4" fill="#C6C7CC"/>
<circle cx="458.5" cy="319.4" r="1.4" fill="#C6C7CC"/>
<circle cx="458.0" cy="325.9" r="1.4" fill="#C6C7CC"/>
<circle cx="460.0" cy="330.0" r="1.4" fill="#C6C7CC"/>
<circle cx="461.5" cy="331.6" r="1.4" fill="#C6C7CC"/>
<circle cx="459.0" cy="336.0" r="1.4" fill="#C6C7CC"/>
<circle cx="460.0" cy="339.0" r="1.4" fill="#C6C7CC"/>
<circle cx="459.5" cy="332.0" r="1.4" fill="#C6C7CC"/>
<circle cx="458.0" cy="336.0" r="1.4" fill="#C6C7CC"/>
<circle cx="460.5" cy="340.0" r="1.4" fill="#C6C7CC"/>
<circle cx="459.0" cy="343.0" r="1.4" fill="#C6C7CC"/>
<circle cx="458.0" cy="348.0" r="1.4" fill="#C6C7CC"/>
<circle cx="461.0" cy="352.0" r="1.4" fill="#C6C7CC"/>
<circle cx="459.0" cy="356.0" r="1.4" fill="#C6C7CC"/>
<circle cx="460.0" cy="360.0" r="1.4" fill="#C6C7CC"/>
<circle cx="458.0" cy="364.0" r="1.4" fill="#C6C7CC"/>
<circle cx="461.0" cy="368.0" r="1.4" fill="#C6C7CC"/>
<circle cx="459.5" cy="372.0" r="1.4" fill="#C6C7CC"/>
<circle cx="458.0" cy="376.0" r="1.4" fill="#C6C7CC"/>
<circle cx="460.0" cy="380.0" r="1.4" fill="#C6C7CC"/>
<circle cx="459.0" cy="384.0" r="1.4" fill="#C6C7CC"/>
<circle cx="459.5" cy="392.3" r="1.4" fill="#C6C7CC"/>
<circle cx="459.0" cy="398.8" r="1.4" fill="#C6C7CC"/>
<circle cx="457.9" cy="347.0" r="1.4" fill="#C6C7CC"/>
<circle cx="457.4" cy="345.9" r="1.4" fill="#C6C7CC"/>
<circle cx="458.7" cy="380.5" r="1.4" fill="#C6C7CC"/>
<circle cx="456.5" cy="360.3" r="1.4" fill="#C6C7CC"/>
<circle cx="461.0" cy="398.0" r="1.4" fill="#C6C7CC"/>
<circle cx="458.1" cy="363.6" r="1.4" fill="#C6C7CC"/>
<circle cx="458.1" cy="320.9" r="1.4" fill="#C6C7CC"/>
<circle cx="457.4" cy="395.9" r="1.4" fill="#C6C7CC"/>
<circle cx="457.6" cy="395.4" r="1.4" fill="#C6C7CC"/>
<circle cx="456.5" cy="377.3" r="1.4" fill="#C6C7CC"/>
<circle cx="457.7" cy="386.8" r="1.4" fill="#C6C7CC"/>
<circle cx="462.0" cy="384.3" r="1.4" fill="#C6C7CC"/>
<circle cx="462.4" cy="313.0" r="1.4" fill="#C6C7CC"/>
<circle cx="458.8" cy="383.1" r="1.4" fill="#C6C7CC"/>
<circle cx="477.0" cy="295.5" r="1.4" fill="#E48C80"/>
<circle cx="474.0" cy="305.6" r="1.4" fill="#E48C80"/>
<circle cx="475.5" cy="339.4" r="1.4" fill="#E48C80"/>
<circle cx="475.0" cy="340.4" r="1.4" fill="#E48C80"/>
<circle cx="475.5" cy="362.0" r="1.4" fill="#E48C80"/>
<circle cx="474.0" cy="362.0" r="1.4" fill="#E48C80"/>
<circle cx="476.0" cy="362.0" r="1.4" fill="#E48C80"/>
<circle cx="489.5" cy="271.8" r="1.4" fill="#BB0C2A"/>
<circle cx="490.5" cy="305.6" r="1.4" fill="#BB0C2A"/>
<circle cx="491.0" cy="308.8" r="1.4" fill="#BB0C2A"/>
<circle cx="493.0" cy="329.6" r="1.4" fill="#BB0C2A"/>
<circle cx="490.5" cy="332.9" r="1.4" fill="#BB0C2A"/>
<circle cx="493.0" cy="337.2" r="1.4" fill="#BB0C2A"/>
<circle cx="490.4" cy="376.4" r="1.4" fill="#BB0C2A"/>
<line x1="321.7" y1="264.7" x2="321.7" y2="413" stroke="#000" stroke-width="1.5"/>
<line x1="320.95" y1="412.7" x2="510.6" y2="412.7" stroke="#000" stroke-width="1.5"/>
<line x1="317.7" y1="283" x2="321.7" y2="283" stroke="#111" stroke-width="1.2"/>
<text x="312" y="286.9" text-anchor="end" font-size="11">10</text>
<line x1="317.7" y1="323" x2="321.7" y2="323" stroke="#111" stroke-width="1.2"/>
<text x="312" y="326.9" text-anchor="end" font-size="11">5</text>
<line x1="317.7" y1="363" x2="321.7" y2="363" stroke="#111" stroke-width="1.2"/>
<text x="312" y="366.9" text-anchor="end" font-size="11">0</text>
<line x1="317.7" y1="403.3" x2="321.7" y2="403.3" stroke="#111" stroke-width="1.2"/>
<text x="312" y="407.2" text-anchor="end" font-size="11">−5</text>
<line x1="356.8" y1="413" x2="356.8" y2="417" stroke="#111" stroke-width="1.2"/>
<text x="356.8" y="432.5" text-anchor="middle" font-size="11.3">day −5</text>
<line x1="415.8" y1="413" x2="415.8" y2="417" stroke="#111" stroke-width="1.2"/>
<text x="415.8" y="432.5" text-anchor="middle" font-size="11.3">day 0</text>
<line x1="475.2" y1="413" x2="475.2" y2="417" stroke="#111" stroke-width="1.2"/>
<text x="475.2" y="432.5" text-anchor="middle" font-size="11.3">day +3*</text>
<text transform="translate(290.3,339) rotate(-90)" text-anchor="middle" font-size="12.5" style="stroke-width:0.3px" textLength="66.6" lengthAdjust="spacingAndGlyphs">log2 (m-EASIX)</text>
<text x="267.6" y="255.8" font-size="16.5" font-weight="bold">D</text>
<line x1="329.5" y1="440.2" x2="329.5" y2="452.7" stroke="#C6C7CC" stroke-width="1.3"/>
<rect x="325.1" y="442.7" width="8.8" height="7" fill="#E5E6EB"/>
<line x1="325.1" y1="446.2" x2="333.9" y2="446.2" stroke="#C6C7CC" stroke-width="1.5"/>
<circle cx="329.5" cy="446.2" r="1.4" fill="#C6C7CC"/>
<text x="339.1" y="449.7" font-size="11.3">None</text>
<line x1="379" y1="440.2" x2="379" y2="452.7" stroke="#E48C80" stroke-width="1.3"/>
<rect x="374.6" y="442.7" width="8.8" height="7" fill="#F8D7D1"/>
<line x1="374.6" y1="446.2" x2="383.4" y2="446.2" stroke="#E48C80" stroke-width="1.5"/>
<circle cx="379" cy="446.2" r="1.4" fill="#E48C80"/>
<text x="388.6" y="449.7" font-size="11.3">Mild</text>
<line x1="422.6" y1="440.2" x2="422.6" y2="452.7" stroke="#BB0C2A" stroke-width="1.3"/>
<rect x="418.20000000000005" y="442.7" width="8.8" height="7" fill="#E8948C"/>
<line x1="418.20000000000005" y1="446.2" x2="427.0" y2="446.2" stroke="#BB0C2A" stroke-width="1.5"/>
<circle cx="422.6" cy="446.2" r="1.4" fill="#BB0C2A"/>
<text x="432.20000000000005" y="449.7" font-size="11.3">Severe ICANS</text>
<rect x="0.5" y="0.5" width="519" height="461" fill="none" stroke="#1a1a1a" stroke-width="1.2"/>
</svg>
</body></html>
